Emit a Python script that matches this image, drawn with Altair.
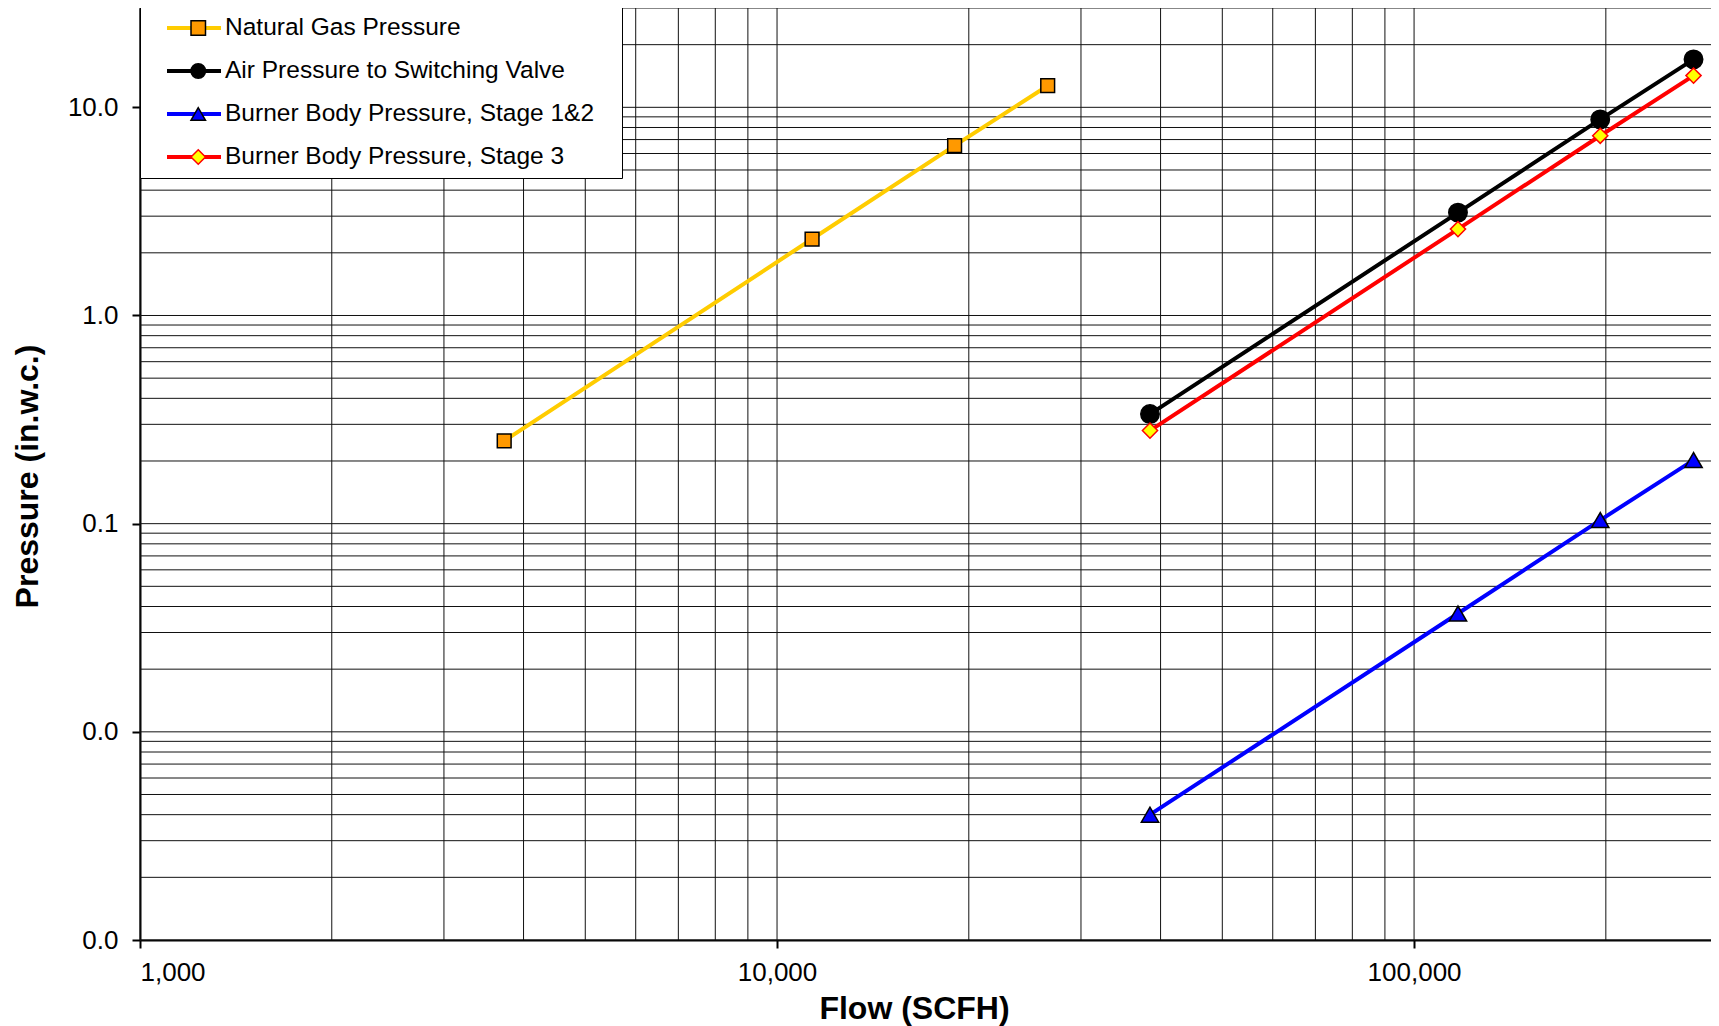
import altair as alt
import pandas as pd

# ---- data ----
series_names = [
    "Natural Gas Pressure",
    "Air Pressure to Switching Valve",
    "Burner Body Pressure, Stage 1&2",
    "Burner Body Pressure, Stage 3",
]
marker_keys = ["m1", "m2", "m3", "m4"]
gas_flow = [3730, 11350, 19000, 26600]
gas_pressure = [0.25, 2.33, 6.55, 12.7]
air_flow = [38500, 117200, 196000, 274600]
air_pressure = [0.336, 3.12, 8.75, 17.0]
s12_flow = [38500, 117200, 196000, 274600]
s12_pressure = [0.0040, 0.037, 0.104, 0.202]
s3_flow = [38500, 117200, 196000, 274600]
s3_pressure = [0.28, 2.6, 7.3, 14.2]

line_colors = ["#FFCC00", "#000000", "#0000FF", "#FF0000"]
marker_fills = ["#FF9900", "#000000", "#0000FF", "#FFFF00"]
marker_strokes = ["#000000", "#000000", "#000000", "#FF0000"]
marker_shapes = ["square", "circle", "triangle-up", "diamond"]
marker_sizes = [190, 340, 300, 230]

x_ticks = [1000, 10000, 100000]
y_ticks = [0.001, 0.01, 0.1, 1, 10]
x_grid = [1000, 2000, 3000, 4000, 5000, 6000, 7000, 8000, 9000,
          10000, 20000, 30000, 40000, 50000, 60000, 70000, 80000, 90000,
          100000, 200000]
y_grid = [0.001, 0.002, 0.003, 0.004, 0.005, 0.006, 0.007, 0.008, 0.009,
          0.01, 0.02, 0.03, 0.04, 0.05, 0.06, 0.07, 0.08, 0.09,
          0.1, 0.2, 0.3, 0.4, 0.5, 0.6, 0.7, 0.8, 0.9,
          1, 2, 3, 4, 5, 6, 7, 8, 9, 10, 20, 30]

# ---- build tables ----
rows = []
for name, key, fl, pr, ms in zip(series_names, marker_keys,
                                 [gas_flow, air_flow, s12_flow, s3_flow],
                                 [gas_pressure, air_pressure, s12_pressure, s3_pressure],
                                 marker_sizes):
    for f, p in zip(fl, pr):
        rows.append({"flow": f, "pressure": p, "series": name, "marker": key, "msize": ms})
df = pd.DataFrame(rows)
df_xg = pd.DataFrame({"flow": x_grid})
df_yg = pd.DataFrame({"pressure": y_grid})

FONT = "Liberation Sans"
W, H = 1571, 932

# the reference's plot runs on past the right edge of the window (to ~300,000)
xscale = alt.Scale(type="log", domain=[1000, 292500], nice=False)
yscale = alt.Scale(type="log", domain=[0.001, 30], nice=False)

x_axis = alt.Axis(values=x_ticks, format=",", grid=False,
                  domainColor="black", domainWidth=2,
                  tickColor="black", tickSize=8, tickWidth=2,
                  labelFont=FONT, labelFontSize=26, labelColor="black", labelPadding=11,
                  title="Flow (SCFH)", titleFont=FONT, titleFontSize=32,
                  titleFontWeight="bold", titleColor="black",
                  titleX=774, titleY=68, titleBaseline="middle", titleAlign="center")
y_axis = alt.Axis(values=y_ticks, format=".1f", grid=False,
                  domainColor="black", domainWidth=2,
                  tickColor="black", tickSize=8, tickWidth=2,
                  labelFont=FONT, labelFontSize=26, labelColor="black", labelPadding=14,
                  title="Pressure (in.w.c.)", titleFont=FONT, titleFontSize=32,
                  titleFontWeight="bold", titleColor="black",
                  titleX=-113, titleY=468, titleAngle=270,
                  titleBaseline="middle", titleAlign="center")

vgrid = alt.Chart(df_xg).mark_rule(color="#111111", strokeWidth=1).encode(
    x=alt.X("flow:Q", scale=xscale, axis=x_axis)
)
hgrid = alt.Chart(df_yg).mark_rule(color="#111111", strokeWidth=1).encode(
    y=alt.Y("pressure:Q", scale=yscale, axis=y_axis)
)

line_legend = alt.Legend(orient="none", legendX=0, legendY=-1, title=None,
                         symbolType="stroke", symbolSize=2916, symbolStrokeWidth=4,
                         symbolOffset=16, labelFont=FONT, labelFontSize=24.5,
                         labelColor="black", labelOffset=2, labelLimit=800,
                         clipHeight=24, rowPadding=18, padding=9, fillColor="white",
                         strokeColor="black", zindex=1,
                         labelExpr="datum.label + '\u2800'")

lines = alt.Chart(df).mark_line(strokeWidth=4).encode(
    x=alt.X("flow:Q", scale=xscale, axis=x_axis),
    y=alt.Y("pressure:Q", scale=yscale, axis=y_axis),
    color=alt.Color("series:N", scale=alt.Scale(domain=series_names, range=line_colors),
                    legend=line_legend),
    order="flow:Q",
)

pt_legend = alt.Legend(orient="none", legendX=0, legendY=-1, title=None,
                       symbolSize=210, symbolStrokeWidth=1.5, symbolOpacity=1,
                       symbolOffset=37, labelFont=FONT, labelFontSize=24.5,
                       labelOffset=2, labelExpr="''", labelLimit=800,
                       clipHeight=24, rowPadding=18, padding=9, zindex=2)

points = alt.Chart(df).mark_point(filled=True, opacity=1, strokeWidth=1.5).encode(
    x=alt.X("flow:Q", scale=xscale, axis=x_axis),
    y=alt.Y("pressure:Q", scale=yscale, axis=y_axis),
    fill=alt.Fill("marker:N", scale=alt.Scale(domain=marker_keys, range=marker_fills),
                  legend=pt_legend),
    stroke=alt.Stroke("marker:N", scale=alt.Scale(domain=marker_keys, range=marker_strokes),
                      legend=pt_legend),
    shape=alt.Shape("marker:N", scale=alt.Scale(domain=marker_keys, range=marker_shapes),
                    legend=pt_legend),
    size=alt.Size("msize:Q", scale=None),
)

chart = alt.layer(vgrid, hgrid, lines, points).properties(
    width=W, height=H,
    autosize=alt.AutoSizeParams(type="none"),
    padding={"left": 132, "top": 0, "right": 0, "bottom": 86},
    background="white",
).configure_view(stroke=None)

chart.save("out.html", embed_options={"renderer": "svg", "actions": False})
